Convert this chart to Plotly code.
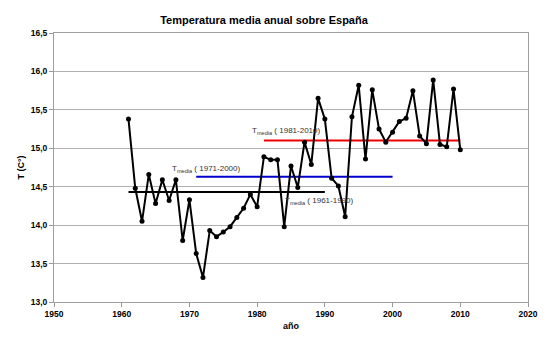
import plotly.graph_objects as go

years = list(range(1961, 2011))
temps = [15.38, 14.48, 14.05, 14.66, 14.28, 14.59, 14.32, 14.59, 13.80, 14.33,
         13.63, 13.32, 13.93, 13.85, 13.91, 13.98, 14.10, 14.22, 14.40, 14.24,
         14.89, 14.85, 14.85, 13.98, 14.77, 14.49, 15.08, 14.79, 15.65, 15.38,
         14.61, 14.51, 14.11, 15.41, 15.82, 14.86, 15.76, 15.25, 15.08, 15.21,
         15.35, 15.39, 15.75, 15.16, 15.06, 15.89, 15.05, 15.02, 15.77, 14.98]

ref_starts = [1961, 1971, 1981]
ref_ends = [1990, 2000, 2010]
ref_means = [14.43, 14.63, 15.10]
ref_colors = ["#000000", "#0000cc", "#ee0000"]
ref_labels = ["T<sub>media</sub> ( 1961-1990)", "T<sub>media</sub> ( 1971-2000)", "T<sub>media</sub> ( 1981-2010)"]
label_x = [1983.8, 1967.1, 1979.0]
label_y = [14.31, 14.73, 15.22]

x_ticks = [1950, 1960, 1970, 1980, 1990, 2000, 2010, 2020]
y_ticks = [13.0, 13.5, 14.0, 14.5, 15.0, 15.5, 16.0, 16.5]

FONT = "Liberation Sans, Arial, sans-serif"

fig = go.Figure()

for s, e, m, c in zip(ref_starts, ref_ends, ref_means, ref_colors):
    fig.add_trace(go.Scatter(x=[s, e], y=[m, m], mode="lines",
                             line=dict(color=c, width=2), showlegend=False,
                             hoverinfo="skip"))

fig.add_trace(go.Scatter(x=years, y=temps, mode="lines+markers",
                         line=dict(color="black", width=2),
                         marker=dict(color="black", size=5),
                         showlegend=False))

for t, lx, ly in zip(ref_labels, label_x, label_y):
    fig.add_annotation(x=lx, y=ly, text=t, showarrow=False, xanchor="left",
                       yanchor="middle",
                       font=dict(family=FONT, size=8, color="#333333"))

fig.update_layout(
    width=550, height=343,
    margin=dict(l=54, r=17, t=33, b=41),
    paper_bgcolor="white", plot_bgcolor="white",
    separators=",.",
    title=dict(text="Temperatura media anual sobre España", x=0.48, xanchor="center",
               y=1 - 20 / 343, yanchor="middle",
               font=dict(family=FONT, size=11, color="black", weight="bold")),
    showlegend=False,
)

fig.update_xaxes(range=[1950, 2020], tickvals=x_ticks,
                 ticks="outside", ticklen=4, tickcolor="#999999",
                 showgrid=False, showline=True, linecolor="#a0a0a0", linewidth=1,
                 mirror=True, zeroline=False,
                 tickfont=dict(family=FONT, size=8.5, color="black", weight="bold"),
                 title=dict(text="año", standoff=4,
                            font=dict(family=FONT, size=9, color="black", weight="bold")))

fig.update_yaxes(range=[13.0, 16.5], tickvals=y_ticks, tickformat=".1f",
                 ticks="outside", ticklen=4, tickcolor="#999999",
                 showgrid=True, gridcolor="#b0b0b0", gridwidth=1,
                 showline=True, linecolor="#a0a0a0", linewidth=1,
                 mirror=True, zeroline=False,
                 tickfont=dict(family=FONT, size=8.5, color="black", weight="bold"),
                 title=dict(text="T (C°)", standoff=4,
                            font=dict(family=FONT, size=9, color="black", weight="bold")))

fig.write_html("out.html")
